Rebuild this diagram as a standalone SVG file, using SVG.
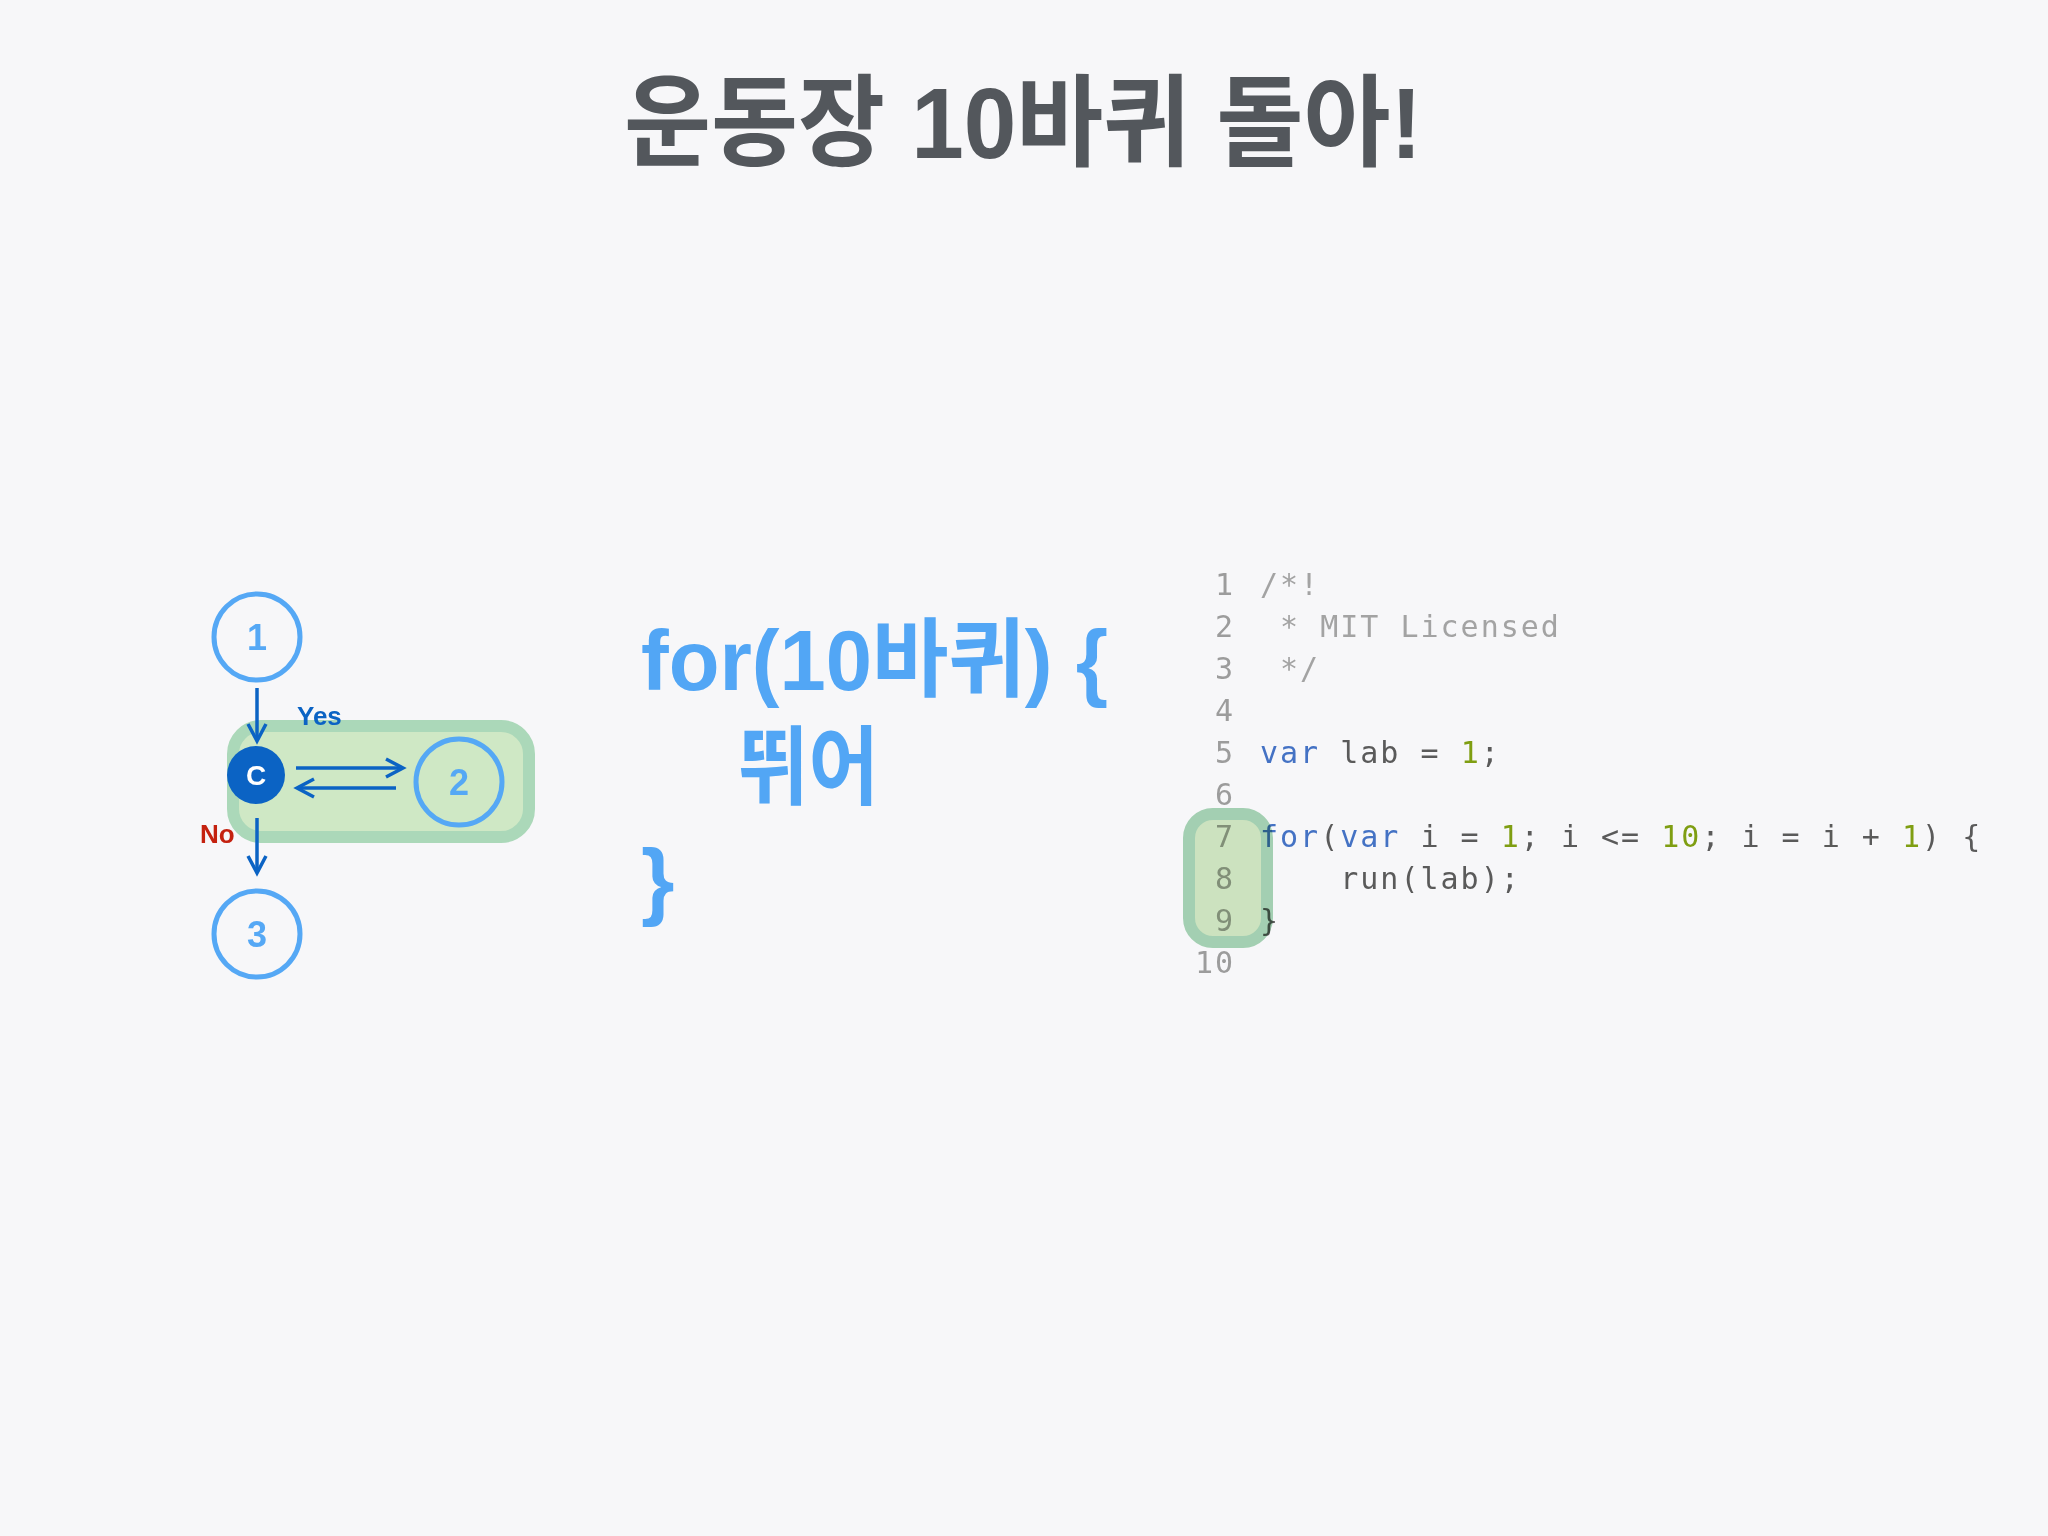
<svg xmlns="http://www.w3.org/2000/svg" width="2048" height="1536" viewBox="0 0 2048 1536">
<defs>
<style>
.title{font-family:"Liberation Sans","Noto Sans CJK KR",sans-serif;font-weight:bold;fill:#53575c}
.big{font-family:"Liberation Sans","Noto Sans CJK KR",sans-serif;font-weight:bold;fill:#52a6f5}
.ring{fill:none;stroke:#55a8f5;stroke-width:5}
.num{font-family:"Liberation Sans",sans-serif;font-weight:bold;font-size:36px;fill:#55a8f5;text-anchor:middle}
.lbl{font-family:"Liberation Sans",sans-serif;font-weight:bold;font-size:26px}
.conn{stroke:#0b63c4;stroke-width:3.5;fill:none}
.code{font-family:"DejaVu Sans Mono","Liberation Mono",monospace;font-size:30px;letter-spacing:2px;white-space:pre;fill:#5a5a5a}
.ln{fill:#9c9c9c;text-anchor:end}
.cm{fill:#a3a3a3}
.kw{fill:#4472c4}
.nm{fill:#7f9e12}
</style>
<marker id="arr" markerUnits="userSpaceOnUse" markerWidth="24" markerHeight="24" refX="18" refY="10" orient="auto" overflow="visible">
<path d="M1,1 L18,10 L1,19" fill="none" stroke="#0b63c4" stroke-width="3.5"/>
</marker>
</defs>
<rect width="2048" height="1536" fill="#f7f7f9"/>

<text class="title" x="624" y="158" font-size="100" textLength="798" lengthAdjust="spacingAndGlyphs">운동장 10바퀴 돌아!</text>

<g id="loop-highlight">
<rect x="233" y="726" width="296" height="111" rx="28" fill="#cfe8c5" stroke="#abd8b9" stroke-width="12"/>
</g>

<g id="node-1">
<circle class="ring" cx="257" cy="637" r="43"/>
<text class="num" x="257" y="650">1</text>
</g>
<g id="node-2">
<circle class="ring" cx="459" cy="782" r="43"/>
<text class="num" x="459" y="795">2</text>
</g>
<g id="node-3">
<circle class="ring" cx="257" cy="934" r="43"/>
<text class="num" x="257" y="947">3</text>
</g>

<g id="connectors">
<line class="conn" x1="257" y1="688" x2="257" y2="741" marker-end="url(#arr)"/>
<line class="conn" x1="296" y1="768" x2="403" y2="768" marker-end="url(#arr)"/>
<line class="conn" x1="396" y1="788" x2="297" y2="788" marker-end="url(#arr)"/>
<line class="conn" x1="257" y1="818" x2="257" y2="873" marker-end="url(#arr)"/>
<text class="lbl" x="297" y="725" font-size="27" fill="#0b63c4">Yes</text>
<text class="lbl" x="200" y="843" fill="#c4210f">No</text>
</g>

<g id="node-c">
<circle cx="256" cy="775" r="29" fill="#0b63c4"/>
<text x="256" y="785" font-family="Liberation Sans, sans-serif" font-weight="bold" font-size="28" fill="#ffffff" text-anchor="middle">C</text>
</g>

<g id="pseudo-code">
<text class="big" x="641" y="690" font-size="86" textLength="467" lengthAdjust="spacingAndGlyphs">for(10바퀴) {</text>
<text class="big" x="738" y="798" font-size="86" textLength="141" lengthAdjust="spacingAndGlyphs">뛰어</text>
<text class="big" x="641" y="909" font-size="86">}</text>
</g>

<g id="code-panel">
<text class="code ln" x="1235" y="595">1</text>
<text class="code ln" x="1235" y="637">2</text>
<text class="code ln" x="1235" y="679">3</text>
<text class="code ln" x="1235" y="721">4</text>
<text class="code ln" x="1235" y="763">5</text>
<text class="code ln" x="1235" y="805">6</text>
<text class="code ln" x="1235" y="847">7</text>
<text class="code ln" x="1235" y="889">8</text>
<text class="code ln" x="1235" y="931">9</text>
<text class="code ln" x="1235" y="973">10</text>
<text class="code cm" x="1260" y="595">/*!</text>
<text class="code cm" x="1260" y="637"> * MIT Licensed</text>
<text class="code cm" x="1260" y="679"> */</text>
<text class="code" x="1260" y="763"><tspan class="kw">var</tspan> lab = <tspan class="nm">1</tspan>;</text>
<text class="code" x="1260" y="847"><tspan class="kw">for</tspan>(<tspan class="kw">var</tspan> i = <tspan class="nm">1</tspan>; i &lt;= <tspan class="nm">10</tspan>; i = i + <tspan class="nm">1</tspan>) {</text>
<text class="code" x="1260" y="889">    run(lab);</text>
<text class="code" x="1260" y="931">}</text>
</g>

<g id="code-highlight" style="mix-blend-mode:multiply">
<rect x="1189" y="814" width="78" height="128" rx="24" fill="#d3eac4" stroke="#a8d6b6" stroke-width="12"/>
</g>
</svg>
